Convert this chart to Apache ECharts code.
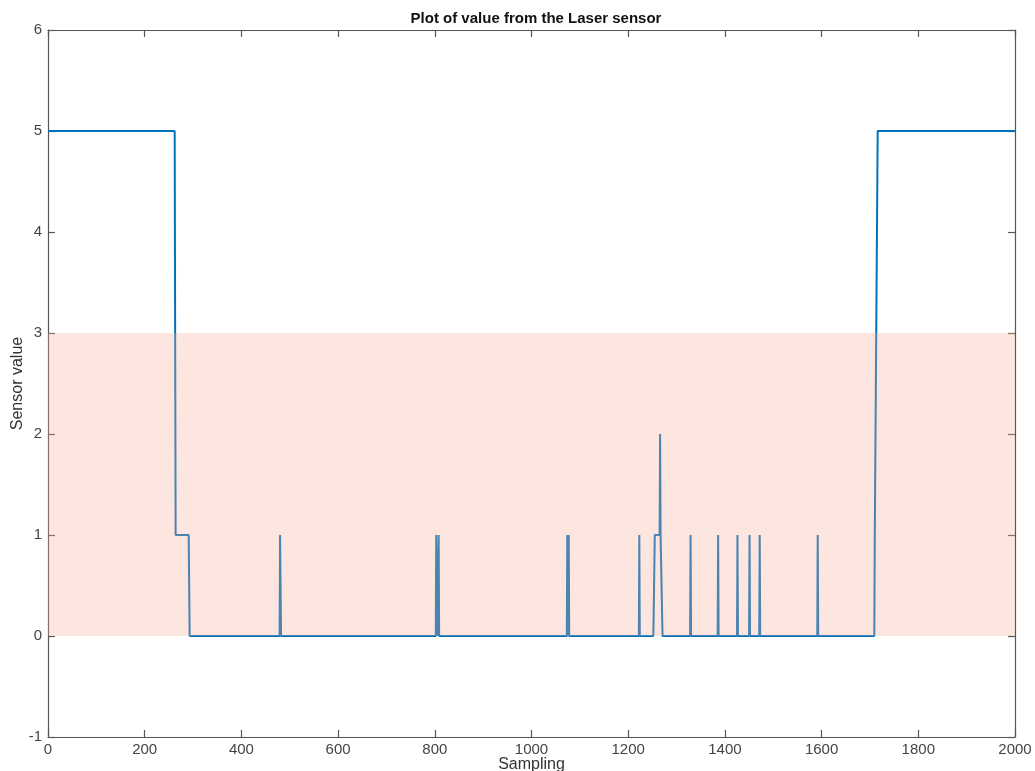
<!DOCTYPE html>
<html>
<head>
<meta charset="utf-8">
<script src="https://cdn.jsdelivr.net/npm/echarts@6/dist/echarts.min.js"></script>
<style>html,body{margin:0;padding:0;background:#fff;}#c{width:1035px;height:771px;}</style>
</head>
<body>
<div id="c"></div>
<script>
// Sample index and sensor value (step points)
const sampleX = [0,262,264,291,293,
  479,480,481,482,
  802,803,804,805,807,808,809,
  1073,1074,1075,1076,1077,1078,
  1222,1223,1224,
  1252,1255,1265,1266,1267,1270,1271,
  1328,1329,1330,
  1385,1386,1387,
  1425,1426,1427,
  1450,1451,1452,
  1471,1472,1473,
  1591,1592,1593,
  1709,1710,1712,1716,2000];
const sensorY = [5,5,1,1,0,
  0,1,1,0,
  0,1,1,0,0,1,0,
  0,1,0,0,1,0,
  0,1,0,
  0,1,1,2,1,1,0,
  0,1,0,
  0,1,0,
  0,1,0,
  0,1,0,
  0,1,0,
  0,1,0,
  0,1,1,5,5];
const bandRange = [0, 3];
const xTicks = [0,200,400,600,800,1000,1200,1400,1600,1800,2000];
const yTicks = [-1,0,1,2,3,4,5,6];

const data = sampleX.map((x,i)=>[x, sensorY[i]]);
const font = 'Liberation Sans, Arial, Helvetica, sans-serif';
const axisCol = '#555';
const chart = echarts.init(document.getElementById('c'));
const hiddenAxis = (pos, type) => ({
  type:'value', position: pos, min: type==='x'?0:-1, max: type==='x'?2000:6,
  interval: type==='x'?200:1,
  axisLine:{show:true, onZero:false, lineStyle:{color:axisCol, width:1.2}},
  axisTick:{show:true, inside:true, length:7, lineStyle:{color:axisCol, width:1.2}},
  axisLabel:{show:false}, splitLine:{show:false}
});
chart.setOption({
  animation:false,
  backgroundColor:'#fff',
  title:{text:'Plot of value from the Laser sensor', left:531, top:6, textAlign:'center',
    textStyle:{fontFamily:font, fontSize:15, fontWeight:'bold', color:'#111'}},
  grid:{left:48, right:20, top:30, bottom:34, containLabel:false, outerBoundsMode:'none'},
  xAxis:[{
    type:'value', min:0, max:2000, interval:200, position:'bottom',
    name:'Sampling', nameLocation:'middle', nameGap:20, nameMoveOverlap:false,
    nameTextStyle:{fontFamily:font, fontSize:16, color:'#333'},
    axisLine:{show:true, onZero:false, lineStyle:{color:axisCol, width:1.2}},
    axisTick:{show:true, inside:true, length:7, lineStyle:{color:axisCol, width:1.2}},
    axisLabel:{fontFamily:font, fontSize:15, color:'#444', margin:5, formatter: v => String(v)},
    splitLine:{show:false}
  }, hiddenAxis('top','x')],
  yAxis:[{
    type:'value', min:-1, max:6, interval:1, position:'left',
    name:'Sensor value', nameLocation:'middle', nameGap:22, nameMoveOverlap:false,
    nameTextStyle:{fontFamily:font, fontSize:16, color:'#333'},
    axisLine:{show:true, onZero:false, lineStyle:{color:axisCol, width:1.2}},
    axisTick:{show:true, inside:true, length:7, lineStyle:{color:axisCol, width:1.2}},
    axisLabel:{fontFamily:font, fontSize:15, color:'#444', margin:6},
    splitLine:{show:false}
  }, hiddenAxis('right','y')],
  series:[{
    type:'line', data:data, showSymbol:false, symbol:'none',
    lineStyle:{color:'#0072BD', width:2}, z:2,
    markArea:{
      z:3, silent:true,
      itemStyle:{color:'rgba(248,172,148,0.3)', borderWidth:0},
      data:[[{xAxis:0, yAxis:bandRange[0]},{xAxis:2000, yAxis:bandRange[1]}]]
    }
  }]
});
</script>
</body>
</html>
